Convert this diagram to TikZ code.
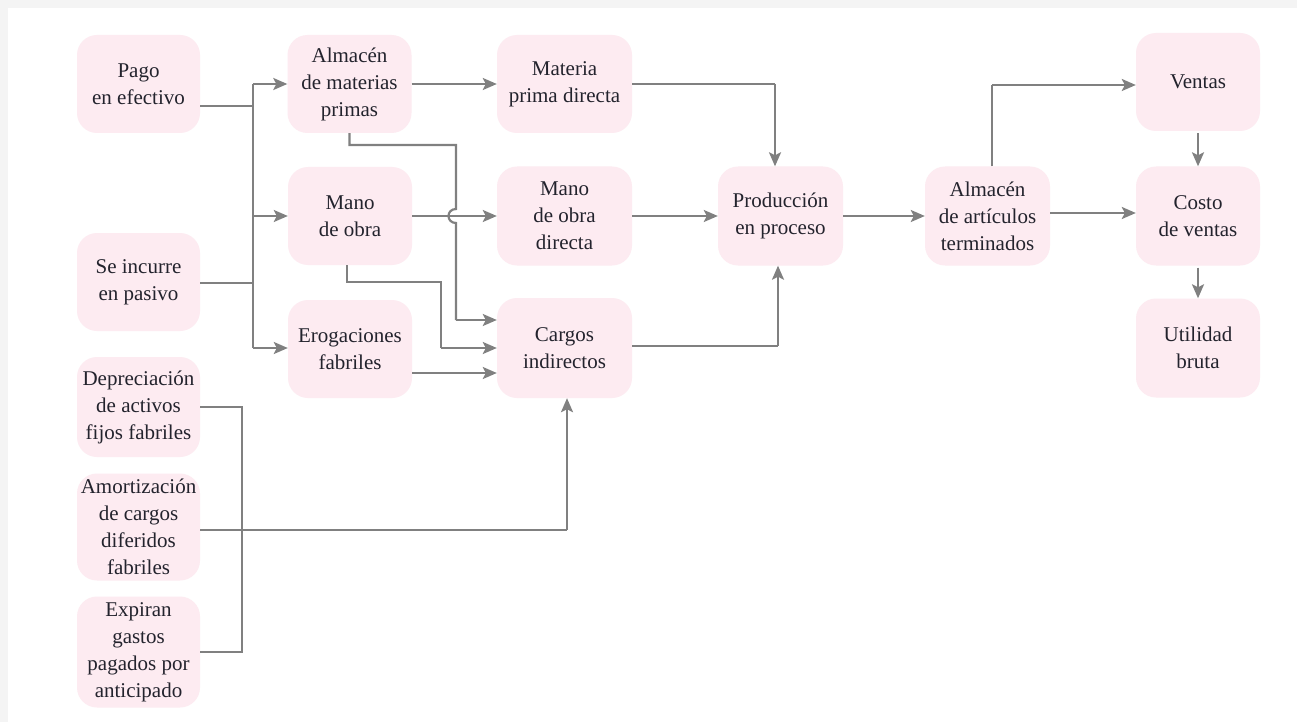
\documentclass[tikz,border=0pt]{standalone}
\usepackage{fontspec}
\setmainfont{Liberation Serif}
\usetikzlibrary{arrows.meta,calc}
\definecolor{boxpink}{HTML}{FDEBF1}
\definecolor{linegray}{HTML}{808080}
\definecolor{txt}{HTML}{23232D}
\definecolor{bandgray}{HTML}{F4F4F4}
\tikzset{
  box/.style={rectangle, rounded corners=20pt, fill=boxpink, draw=none, align=center,
    inner sep=0pt, text=txt, font=\fontsize{21}{27}\selectfont},
  conn/.style={draw=linegray, line width=2.2pt},
  arr/.style={conn, -{Stealth[length=14pt,width=12pt,inset=3pt]}}
}
\begin{document}
\begin{tikzpicture}[x=1pt,y=-1pt]
\useasboundingbox (0,0) rectangle (1297,722);
\fill[white] (0,0) rectangle (1297,722);
\fill[bandgray] (0,0) rectangle (1297,8);
\fill[bandgray] (0,0) rectangle (8,722);

% left column
\node[box, minimum width=123pt, minimum height=98pt] (pago) at (138.5,84) {Pago\\en efectivo};
\node[box, minimum width=123pt, minimum height=98pt] (incurre) at (138.5,282) {Se incurre\\en pasivo};
\node[box, minimum width=123pt, minimum height=100pt] (dep) at (138.5,407) {Depreciación\\de activos\\fijos fabriles};
\node[box, minimum width=123pt, minimum height=107pt] (amo) at (138.5,527) {Amortización\\de cargos\\diferidos\\fabriles};
\node[box, minimum width=123pt, minimum height=111pt] (exp) at (138.5,652) {Expiran\\gastos\\pagados por\\anticipado};

% second column
\node[box, minimum width=124pt, minimum height=98pt] (amp) at (349.5,84) {Almacén\\de materias\\primas};
\node[box, minimum width=124pt, minimum height=98pt] (mo) at (350,216) {Mano\\de obra};
\node[box, minimum width=124pt, minimum height=98pt] (ero) at (350,349) {Erogaciones\\fabriles};

% third column
\node[box, minimum width=135pt, minimum height=98pt] (mpd) at (564.5,84) {Materia\\prima directa};
\node[box, minimum width=135pt, minimum height=99pt] (mod) at (564.5,216) {Mano\\de obra\\directa};
\node[box, minimum width=135pt, minimum height=100pt] (ci) at (564.5,348) {Cargos\\indirectos};

% right part
\node[box, minimum width=125pt, minimum height=99pt] (pp) at (780.5,216) {Producción\\en proceso};
\node[box, minimum width=125pt, minimum height=99pt] (aat) at (987.5,216) {Almacén\\de artículos\\terminados};
\node[box, minimum width=124pt, minimum height=98pt] (ventas) at (1198,82) {Ventas};
\node[box, minimum width=124pt, minimum height=99pt] (costo) at (1198,216) {Costo\\de ventas};
\node[box, minimum width=124pt, minimum height=99pt] (util) at (1198,348) {Utilidad\\bruta};

% bus from Pago / Se incurre
\coordinate (bP) at (253,106);
\coordinate (bI) at (253,283);
\coordinate (bA) at (253,84);
\coordinate (bM) at (253,216);
\coordinate (bE) at (253,348);
\draw[conn] ([yshift=-22pt]pago.east) -- (bP);
\draw[conn] ([yshift=-1pt]incurre.east) -- (bI);
\draw[conn] (bA) -- (bE);
\draw[arr] (bA) -- (bA -| amp.west);
\draw[arr] (bM) -- (bM -| mo.west);
\draw[arr] (bE) -- (bE -| ero.west);

% second column to third column
\draw[arr] (amp.east) -- (mpd.west);
\draw[arr] (mo.east) -- (mod.west);
\coordinate (m1) at (456,145);
\coordinate (h1) at (456,209);
\coordinate (h2) at (456,223);
\coordinate (m2) at (456,320);
\draw[conn] (amp.south) |- (m1) -- (h1) .. controls (446,209) and (446,223) .. (h2) -- (m2);
\draw[arr] (m2) -- (m2 -| ci.west);
\coordinate (n0) at (347,265);
\coordinate (n1) at (441,282);
\coordinate (n2) at (441,348);
\draw[conn] (n0) |- (n1) -- (n2);
\draw[arr] (n2) -- (n2 -| ci.west);
\coordinate (e1) at (412,373);
\draw[arr] (e1) -- (e1 -| ci.west);

% bottom-left group
\coordinate (d1) at (242,407);
\coordinate (d2) at (242,652);
\draw[conn] (dep.east) -- (d1) -- (d2) -- (exp.east);
\coordinate (a0) at (200,530);
\coordinate (a1) at (567,530);
\draw[conn] (a0) -- (a1);
\draw[arr] (a1) -- (a1 |- ci.south);

% to production
\coordinate (p1) at (775,84);
\draw[conn] (mpd.east) -- (p1);
\draw[arr] (p1) -- (p1 |- pp.north);
\draw[arr] (mod.east) -- (pp.west);
\coordinate (p2) at (778,346);
\draw[conn] ([yshift=2pt]ci.east) -- (p2);
\draw[arr] (p2) -- (p2 |- pp.south);
\draw[arr] (pp.east) -- (aat.west);

% right side
\coordinate (v0) at (992,166.5);
\coordinate (v1) at (992,85);
\draw[conn] (v0) -- (v1);
\draw[arr] (v1) -- (v1 -| ventas.west);
\draw[arr] ([yshift=3pt]aat.east) -- ([yshift=3pt]costo.west);
\draw[arr, shorten <=2pt] (ventas.south) -- (costo.north);
\draw[arr, shorten <=2pt] (costo.south) -- (util.north);
\end{tikzpicture}
\end{document}
